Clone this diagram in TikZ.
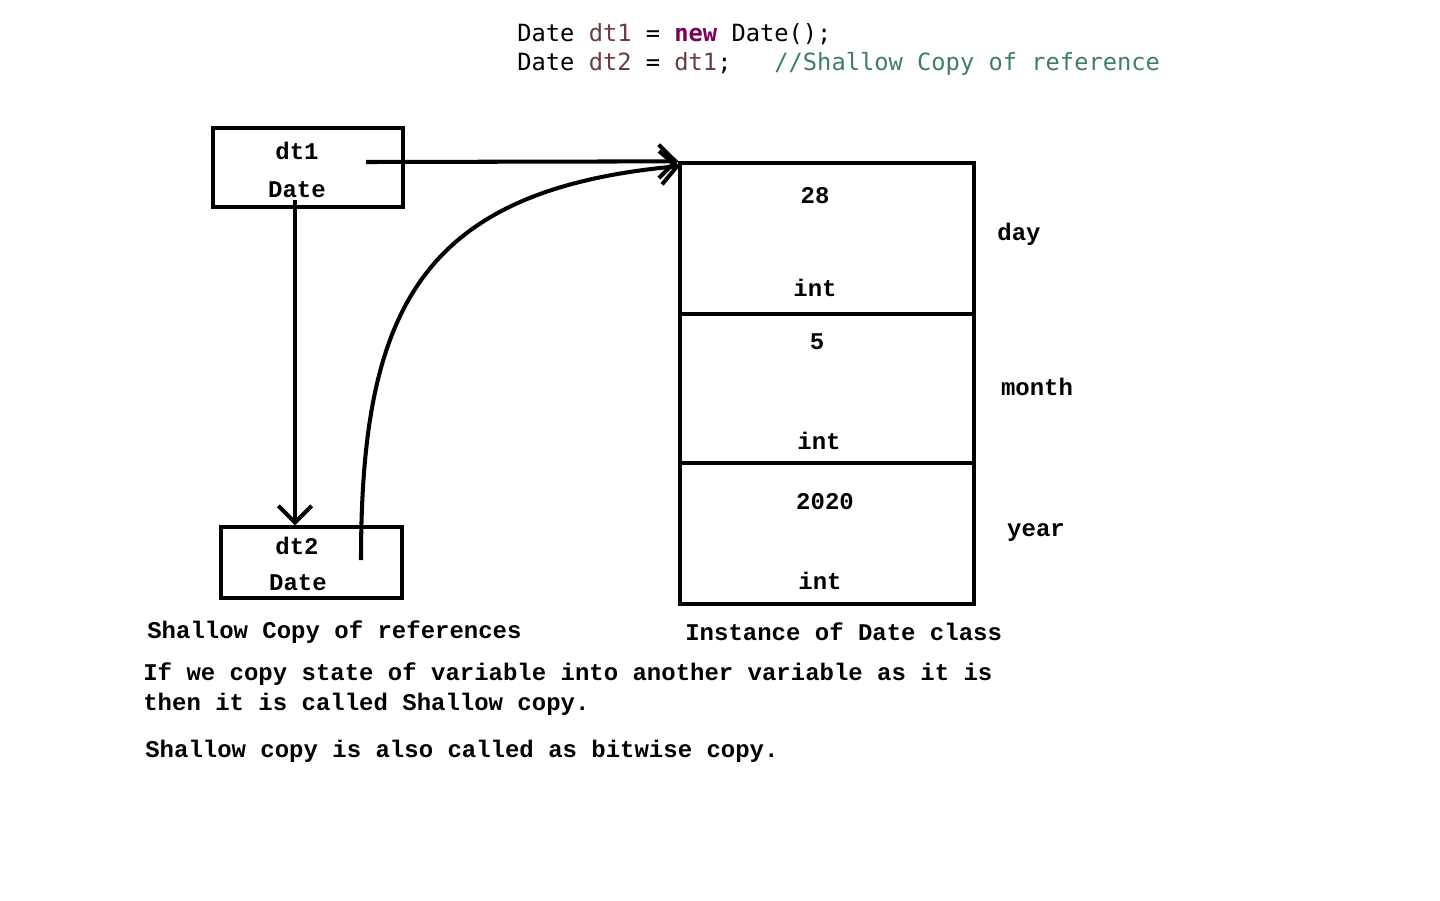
\documentclass[tikz,border=0pt]{standalone}
\usepackage{fontspec}
\setmonofont{Liberation Mono}
\newfontfamily\codefont{DejaVu Sans Mono}
\usepackage{xcolor}
\usetikzlibrary{arrows.meta,positioning}
\definecolor{varbrown}{HTML}{6A3E3E}
\definecolor{keypurple}{HTML}{7F0055}
\definecolor{commentgreen}{HTML}{3F7F5F}

\tikzset{
  lbl/.style={font=\ttfamily\bfseries\fontsize{13.65}{16}\selectfont, inner sep=0pt},
  codeline/.style={font=\codefont\fontsize{13.5}{16}\selectfont, inner sep=0pt, anchor=west},
  refbox/.style={draw, line width=1.9pt},
  cell/.style={draw, line width=1.9pt, minimum width=5.88cm},
  ptr/.style={line width=2.3pt, -{Straight Barb[length=9.5pt,width=19pt,line width=2.3pt]}},
}

\begin{document}
\begin{tikzpicture}[x=0.02cm,y=-0.02cm]
\useasboundingbox (0,0) rectangle (1440,900);

% code
\node (codeone) at (517,34) [codeline] {Date \textcolor{varbrown}{dt1} = \textcolor{keypurple}{\bfseries new} Date();};
\node (codetwo) at (517,64) [codeline] {Date \textcolor{varbrown}{dt2} = \textcolor{varbrown}{dt1};~~~\textcolor{commentgreen}{//Shallow Copy of reference}};

% references
\node (dtone) at (308,167.5) [refbox, minimum width=3.8cm, minimum height=1.58cm] {};
\node at (297,151) [lbl] {dt1};
\node at (297,190) [lbl] {Date};

\node (dttwo) at (311.5,562.5) [refbox, minimum width=3.62cm, minimum height=1.42cm] {};
\node at (297,546) [lbl] {dt2};
\node at (298,583) [lbl] {Date};

% instance
\node (daycell) at (827,238.5) [cell, minimum height=3.02cm] {};
\node (monthcell) at (827,388.5) [cell, minimum height=2.98cm] {};
\node (yearcell) at (827,533.5) [cell, minimum height=2.82cm] {};

\node at (815,196) [lbl] {28};
\node at (815,288) [lbl] {int};
\node at (817,342) [lbl] {5};
\node at (819,441) [lbl] {int};
\node at (825,502) [lbl] {2020};
\node at (820,581) [lbl] {int};

\node at (1019,234) [lbl] {day};
\node at (1037,387) [lbl] {month};
\node at (1036,533) [lbl] {year};

% arrows
\coordinate (onestart) at (366,162);
\coordinate (onedown) at (295,200);
\coordinate (curvestart) at (361,560);
\coordinate (curveend) at (680,166);
\draw [ptr] (onestart) -- (daycell.north west);
\draw [ptr] (onedown) -- (onedown |- dttwo.north);
\draw [ptr] (curvestart) .. controls (361,310) and (420,190) .. (curveend);

% captions
\node at (147,632) [lbl, anchor=west] {Shallow Copy of references};
\node at (685,632) [lbl, anchor=west] {Instance of Date class};
\node at (143,674) [lbl, anchor=west] {If we copy state of variable into another variable as it is};
\node at (143,704) [lbl, anchor=west] {then it is called Shallow copy.};
\node at (145,751) [lbl, anchor=west] {Shallow copy is also called as bitwise copy.};

\end{tikzpicture}
\end{document}
